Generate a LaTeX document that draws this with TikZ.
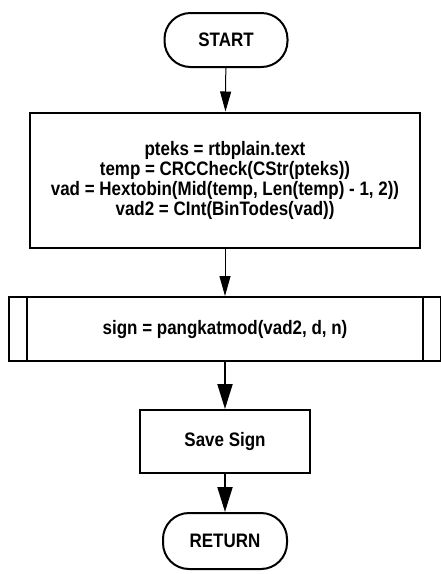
\documentclass[tikz,border=0pt]{standalone}
\usepackage{fontspec}
\setmainfont{Liberation Sans}[FakeStretch=0.87]
\usetikzlibrary{positioning,
        shapes,
        arrows.meta}

\tikzset{
    term/.style={draw,line width=1pt,rounded corners=13pt,minimum width=61.5pt,minimum height=27pt,inner sep=0pt},
    proc/.style={draw,line width=1pt,minimum height=32pt,inner sep=0pt,align=center},
    thinarrow/.style={-{Triangle[length=10pt,width=5.5pt]},line width=0.5pt},
    thickarrow/.style={-{Triangle[length=12.5pt,width=7.5pt]},line width=1pt}
}

\begin{document}
\begin{tikzpicture}[x=0.5pt,y=-0.5pt,font=\bfseries\fontsize{9.75}{10}\selectfont]
            \useasboundingbox (0,0) rectangle (440,574);
            \node [term] (start) at (226,40) {START};
            \node [proc,minimum width=195pt,minimum height=67.5pt] (calc) at (225,180) {pteks = rtbplain.text\\temp = CRCCheck(CStr(pteks))\\vad = Hextobin(Mid(temp, Len(temp) - 1, 2))\\vad2 = CInt(BinTodes(vad))};
            \node [proc,minimum width=216pt] (sign) at (225,329) {sign = pangkatmod(vad2, d, n)};
            \node [proc,minimum width=85pt,minimum height=31.5pt] (save) at (225,441.5) {Save Sign};
            \node [term,minimum width=62pt,minimum height=28pt] (ret) at (225,541) {RETURN};

            \draw [line width=1pt] ([xshift=9.5pt]sign.north west) -- ([xshift=9.5pt]sign.south west);
            \draw [line width=1pt] ([xshift=-9.5pt]sign.north east) -- ([xshift=-9.5pt]sign.south east);

            \draw [thinarrow] (start) -- (calc);
            \draw [thinarrow] (calc) -- (sign);
            \draw [thickarrow] (sign) -- (save);
            \draw [thickarrow] (save) -- (ret);
        \end{tikzpicture}
\end{document}
